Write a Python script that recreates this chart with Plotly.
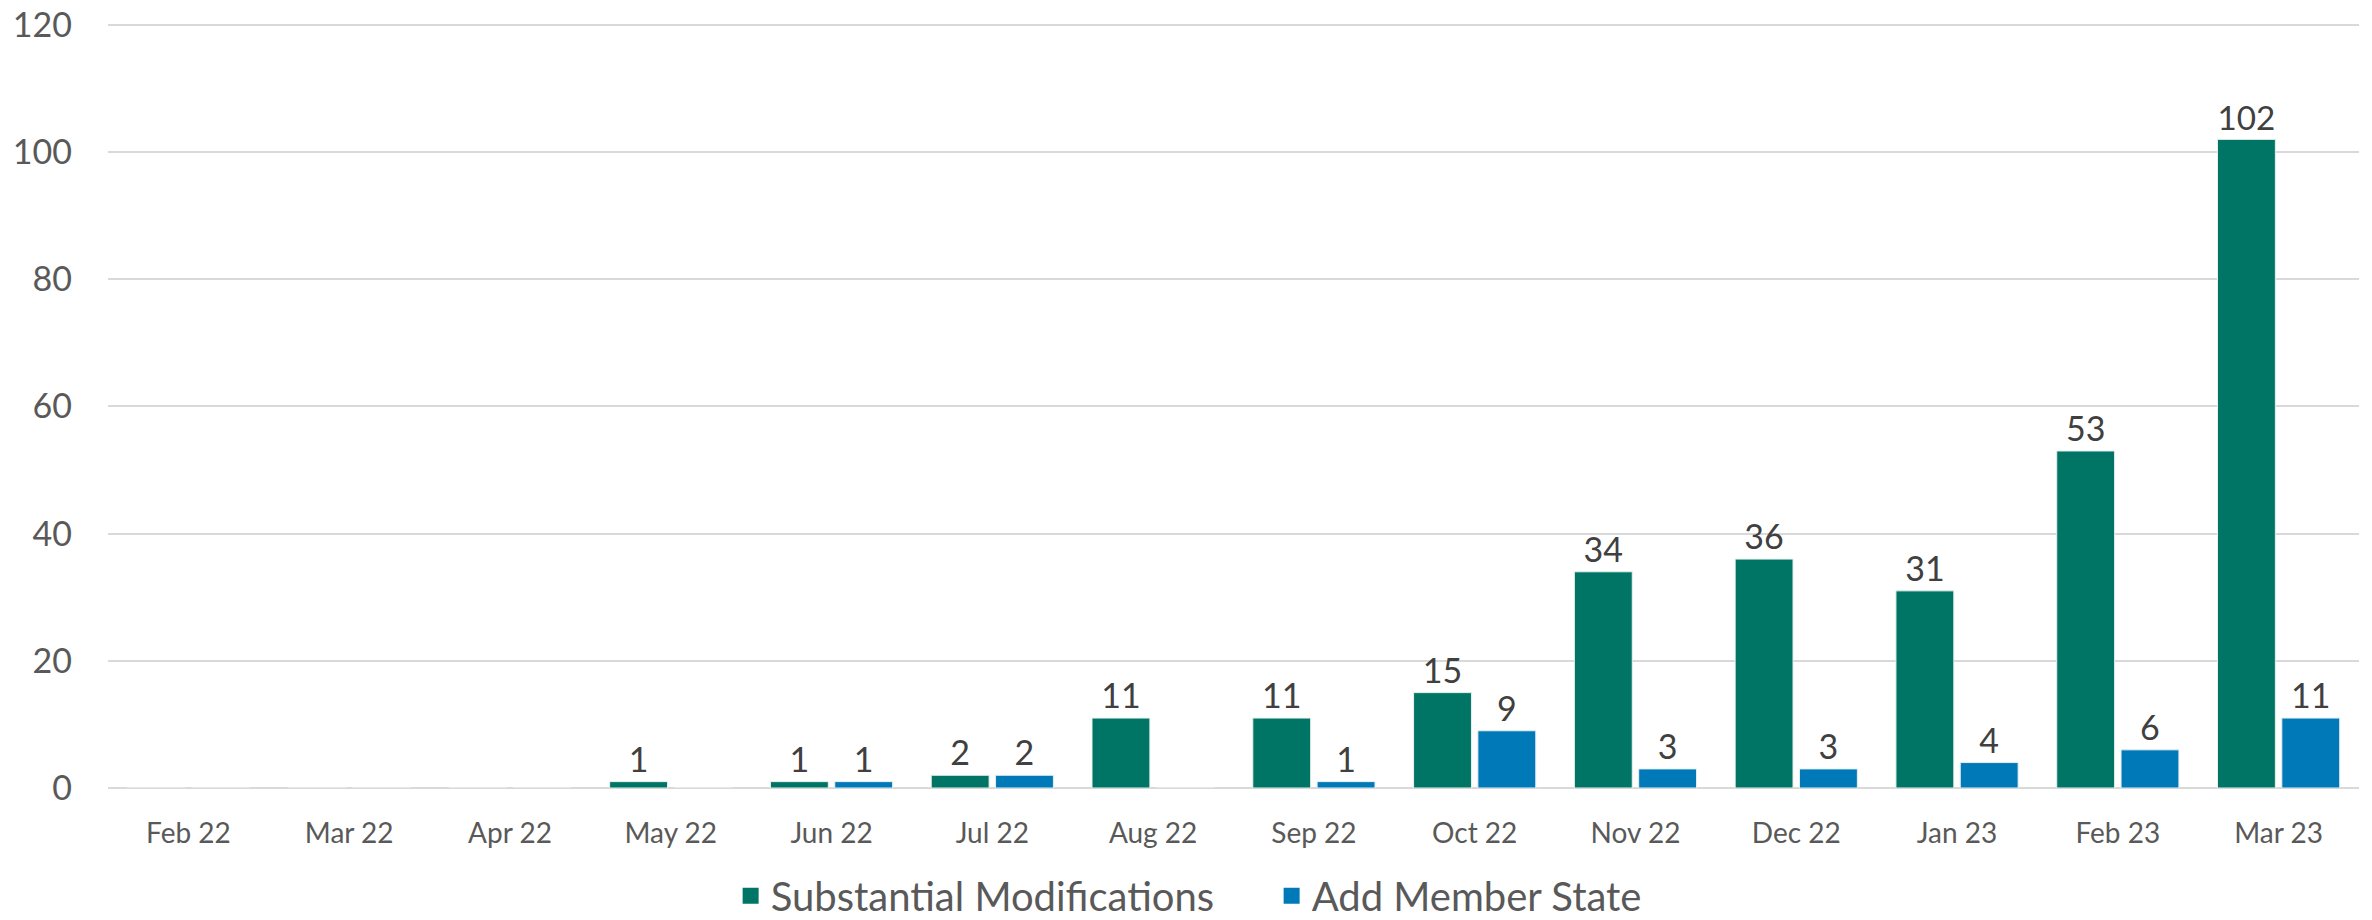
import plotly.graph_objects as go

months = ["Feb 22", "Mar 22", "Apr 22", "May 22", "Jun 22", "Jul 22", "Aug 22",
          "Sep 22", "Oct 22", "Nov 22", "Dec 22", "Jan 23", "Feb 23", "Mar 23"]
substantial = [0, 0, 0, 1, 1, 2, 11, 11, 15, 34, 36, 31, 53, 102]
add_member = [0, 0, 0, 0, 1, 2, 0, 1, 9, 3, 3, 4, 6, 11]
y_ticks = [0, 20, 40, 60, 80, 100, 120]
series_names = ["Substantial Modifications", "Add Member State"]

GREEN = "#007566"
BLUE = "#0079B8"
FONT = "Lato"


def labels(vals):
    return [str(v) if v else "" for v in vals]


fig = go.Figure()
for name, vals, col, edge in [(series_names[0], substantial, GREEN, "#E8F0EE"),
                              (series_names[1], add_member, BLUE, "#E6EEF4")]:
    fig.add_trace(go.Bar(
        x=months, y=vals, name=name, legendgroup=name, showlegend=False,
        marker=dict(color=col, line=dict(color=edge, width=1)),
        text=labels(vals), textposition="outside",
        textfont=dict(family=FONT, size=34, color="#404040"), cliponaxis=False,
    ))
# legend proxies (larger square swatches like the original)
for name, col in [(series_names[0], GREEN), (series_names[1], BLUE)]:
    fig.add_trace(go.Scatter(
        x=[None], y=[None], mode="markers", name=name, legendgroup=name,
        marker=dict(symbol="square", size=16, color=col),
    ))

fig.update_layout(
    width=2372, height=920,
    margin=dict(l=108, r=13, t=23, b=132, autoexpand=False),
    paper_bgcolor="white", plot_bgcolor="white",
    barmode="group", bargap=0.2, bargroupgap=0.1,
    font=dict(family=FONT, color="#595959"),
    showlegend=True,
    legend=dict(orientation="h", x=0.2766, xanchor="left",
                y=-0.141, yanchor="middle",
                font=dict(family=FONT, size=40, color="#595959"),
                itemsizing="trace", itemwidth=30, tracegroupgap=0,
                entrywidth=496, entrywidthmode="pixels"),
    xaxis=dict(showgrid=False, showline=False, ticks="", ticklabelstandoff=26,
               automargin=False,
               tickfont=dict(family=FONT, size=28, color="#595959")),
    yaxis=dict(range=[0, 120.3], tickvals=y_ticks, showgrid=True,
               gridcolor="#D9D9D9", gridwidth=1.5, zeroline=True,
               zerolinecolor="#D9D9D9", zerolinewidth=1.5, showline=False,
               ticks="", ticklabelstandoff=35, automargin=False,
               tickfont=dict(family=FONT, size=34, color="#595959")),
)

fig.write_html(
    "out.html",
    config={"displayModeBar": False},
    post_script="document.body.style.margin='0';document.body.style.overflow='hidden';",
)
